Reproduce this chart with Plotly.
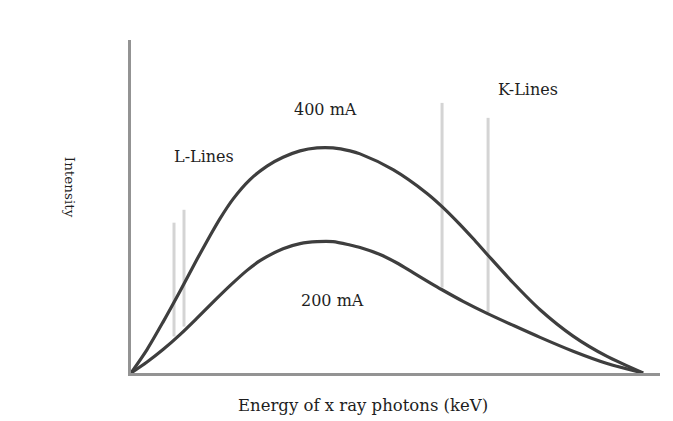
import plotly.graph_objects as go

# Data (arbitrary units: energy 0-100, intensity)
energy_400 = [0, 3.13, 6.25, 9.57, 12.89, 15.43, 17.38, 19.92, 23.24, 26.56, 29.69, 33.01, 36.33, 39.45,
              42.77, 44.73, 51.17, 57.81, 60.74, 64.26, 66.80, 69.53, 74.61, 79.88, 86.33, 92.97, 100]
int_400 = [0, 7.83, 17.0, 27.3, 37.97, 45.83, 51.57, 58.07, 64.57, 69.1, 72.03, 74.17, 75.17, 75.17,
           74.17, 73.17, 67.9, 59.97, 55.57, 49.57, 44.9, 39.67, 30.13, 21.13, 12.33, 5.53, 0]

energy_200 = [0, 3.13, 6.25, 9.57, 12.89, 16.02, 19.34, 22.66, 25.2, 29.69, 33.01, 36.33, 39.45, 42.77,
              44.73, 48.63, 51.95, 55.08, 58.4, 60.74, 64.84, 69.53, 74.61, 79.88, 86.33, 92.97, 100]
int_200 = [0, 3.67, 7.83, 12.83, 18.33, 23.67, 29.17, 34.27, 37.5, 41.5, 43.2, 43.87, 43.87, 42.73,
           41.9, 39.57, 36.73, 33.53, 30.13, 27.8, 23.93, 19.93, 15.93, 11.9, 7.27, 3.17, 0]

# characteristic lines: position, bottom, top
line_energy = [8.4, 10.35, 60.74, 69.73]
line_bottom = [12.2, 15.5, 28.5, 20.2]
line_top = [50.2, 54.5, 90.2, 85.2]

labels = ["400 mA", "L-Lines", "K-Lines", "200 mA"]
label_x = [37.9, 14.3, 77.5, 39.3]
label_y = [88.0, 72.3, 94.8, 24.2]

FONT = "DejaVu Serif"
TXT = "#1e1e1e"

fig = go.Figure()

for e, b, t in zip(line_energy, line_bottom, line_top):
    fig.add_trace(go.Scatter(x=[e, e], y=[b, t], mode="lines",
                             line=dict(color="#d4d4d4", width=3),
                             showlegend=False, hoverinfo="skip"))

for xs, ys in [(energy_400, int_400), (energy_200, int_200)]:
    fig.add_trace(go.Scatter(x=xs, y=ys, mode="lines",
                             line=dict(color="#3e3e3e", width=3.2, shape="spline", smoothing=0.8),
                             showlegend=False, hoverinfo="skip"))

for t, x, y in zip(labels, label_x, label_y):
    fig.add_annotation(x=x, y=y, text=t, showarrow=False, xanchor="center", yanchor="middle",
                       font=dict(family=FONT, size=16, color=TXT))

fig.add_annotation(xref="paper", yref="paper", x=-0.1153, y=0.559, text="Intensity",
                   textangle=90, showarrow=False, xanchor="center", yanchor="middle",
                   font=dict(family=FONT, size=13.5, color=TXT))
fig.add_annotation(xref="paper", yref="paper", x=0.4386, y=-0.0975, text="Energy of x ray photons (keV)",
                   showarrow=False, xanchor="center", yanchor="middle",
                   font=dict(family=FONT, size=16.5, color=TXT))

fig.update_layout(
    width=665, height=413,
    margin=dict(l=123, r=13, t=32, b=47.5, pad=0),
    paper_bgcolor="white", plot_bgcolor="white",
    xaxis=dict(range=[0, 103.3], showgrid=False, zeroline=False, showticklabels=False,
               ticks="", showline=True, linecolor="#939393", linewidth=3, mirror=False),
    yaxis=dict(range=[0, 111.2], showgrid=False, zeroline=False, showticklabels=False,
               ticks="", showline=True, linecolor="#939393", linewidth=3, mirror=False),
)

fig.write_html("out.html")
